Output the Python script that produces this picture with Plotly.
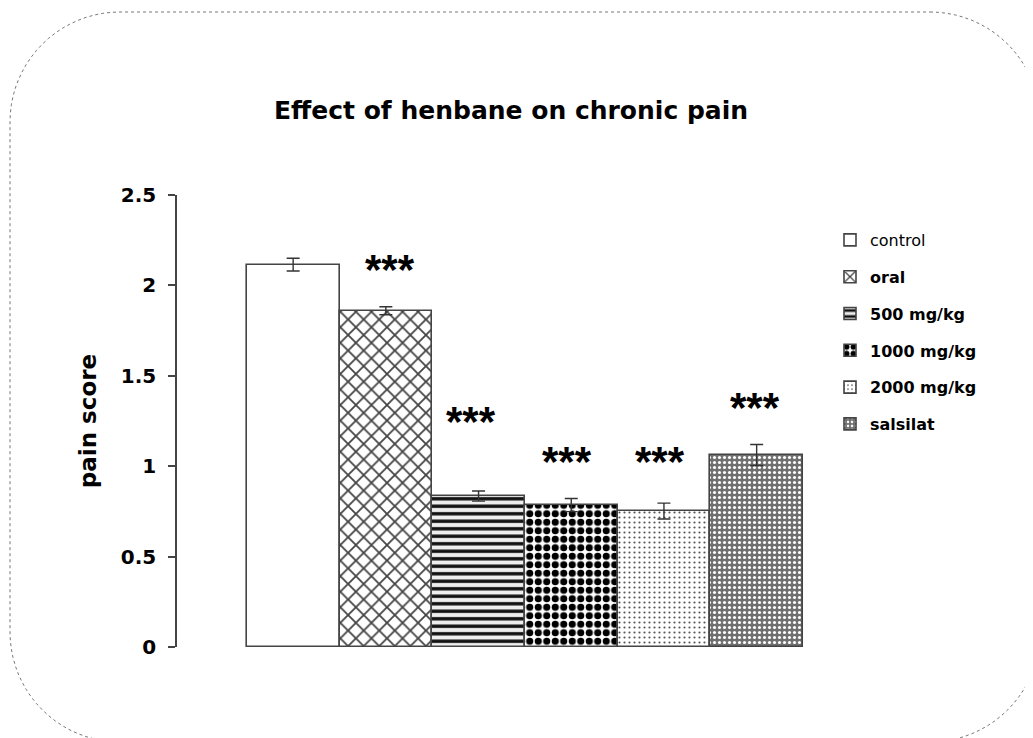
import plotly.graph_objects as go
import math

# ---- data ----
groups = ["control", "oral", "500 mg/kg", "1000 mg/kg", "2000 mg/kg", "salsilat"]
pain_score = [2.115, 1.86, 0.835, 0.785, 0.752, 1.062]
sem = [0.035, 0.022, 0.028, 0.036, 0.044, 0.058]
signif = ["", "***", "***", "***", "***", "***"]
star_y = [None, 2.11, 1.27, 1.05, 1.05, 1.345]
star_dx = [0, 4, -8, -4, -4, -2]
y_ticks = [0, 0.5, 1, 1.5, 2, 2.5]
y_ticktext = ["0", "0.5", "1", "1.5", "2", "2.5"]

# ---- geometry (page has an 8px body margin) ----
OFF = 8
W, H = 1033 - OFF, 738 - OFF
L, R, T, B = 177 - OFF, 1033 - 803, 195 - OFF, 738 - 647
PW, PH = W - L - R, H - T - B

styles = [
    dict(shape="", fg="#000000", bg="#ffffff", size=8, sol=0.3),
    dict(shape="x", fg="#444444", bg="#ffffff", size=11, sol=0.3),
    dict(shape="-", fg="#111111", bg="#eeeeee", size=7.5, sol=0.45),
    dict(shape=".", fg="#000000", bg="#ffffff", size=8.5, sol=0.55),
    dict(shape=".", fg="#555555", bg="#ffffff", size=5, sol=0.15),
    dict(shape=".", fg="#ffffff", bg="#707070", size=5, sol=0.3),
]
bold = [False, True, True, True, True, True]

fig = go.Figure()
for i, g in enumerate(groups):
    st = styles[i]
    fig.add_trace(go.Bar(
        x=[g], y=[pain_score[i]],
        name=("<b>%s</b>" % g) if bold[i] else g,
        legendgroup=g,
        width=1.0,
        marker=dict(
            color=st["bg"],
            line=dict(color="#444444", width=1.6),
            pattern=dict(shape=st["shape"], fgcolor=st["fg"], bgcolor=st["bg"],
                         size=st["size"], solidity=st["sol"], fillmode="replace"),
        ),
        error_y=dict(type="data", array=[sem[i]], visible=True,
                     color="#333333", thickness=1.4, width=6.5),
    ))

# significance stars
for i, g in enumerate(groups):
    if signif[i]:
        fig.add_annotation(x=g, y=star_y[i], text="<b>%s</b>" % signif[i], showarrow=False,
                           xshift=star_dx[i], yshift=-4,
                           font=dict(family="Liberation Sans", size=42, color="#000000"),
                           xanchor="center", yanchor="middle")

# rounded dotted frame (screen pixel geometry converted to paper coordinates)
def px2paper(sx, sy):
    fx, fy = sx - OFF, sy - OFF
    return (fx - L) / PW, (H - B - fy) / PH

x0, y0, x1, y1, r = 10, 12, 1040, 742, 110
pts = []
corners = [((x1 - r, y0 + r), -90, 0), ((x1 - r, y1 - r), 0, 90),
           ((x0 + r, y1 - r), 90, 180), ((x0 + r, y0 + r), 180, 270)]
for (cx, cy), a0, a1 in corners:
    for k in range(21):
        a = math.radians(a0 + (a1 - a0) * k / 20)
        pts.append(px2paper(cx + r * math.cos(a), cy + r * math.sin(a)))
path = "M " + " L ".join("%.5f,%.5f" % p for p in pts) + " Z"
fig.add_shape(type="path", path=path, xref="paper", yref="paper",
              line=dict(color="#777777", width=1, dash="dot"), layer="below")

fig.update_layout(
    width=W, height=H,
    margin=dict(l=L, r=R, t=T, b=B, autoexpand=False),
    paper_bgcolor="white", plot_bgcolor="white",
    barmode="overlay", bargap=0,
    showlegend=True,
    title=dict(text="<b>Effect of henbane on chronic pain</b>",
               font=dict(family="DejaVu Sans", size=25, color="#000000"),
               x=(511 - OFF - L) / PW, xref="paper", xanchor="center",
               y=1 - (110 - OFF) / H, yref="container", yanchor="middle"),
    legend=dict(x=(830 - OFF - L) / PW, xanchor="left",
                y=(H - B - (223 - OFF)) / PH, yanchor="top",
                font=dict(family="DejaVu Sans", size=16, color="#000000"),
                tracegroupgap=13, bgcolor="rgba(0,0,0,0)", itemwidth=30),
    xaxis=dict(type="category", range=[-1.253, 5.5], showticklabels=False,
               showline=False, showgrid=False, zeroline=False, ticks=""),
    yaxis=dict(range=[0, 2.5], tickvals=y_ticks,
               ticktext=["<b>%s</b>" % t for t in y_ticktext],
               showline=True, linecolor="#444444", linewidth=1.6,
               ticks="outside", ticklen=7, tickcolor="#444444", tickwidth=1.6,
               ticklabelstandoff=8,
               showgrid=False, zeroline=False,
               tickfont=dict(family="DejaVu Sans", size=20, color="#000000"),
               title=dict(text="<b>pain score</b>", standoff=18,
                          font=dict(family="DejaVu Sans", size=23, color="#000000"))),
)

fig.write_html("out.html")
